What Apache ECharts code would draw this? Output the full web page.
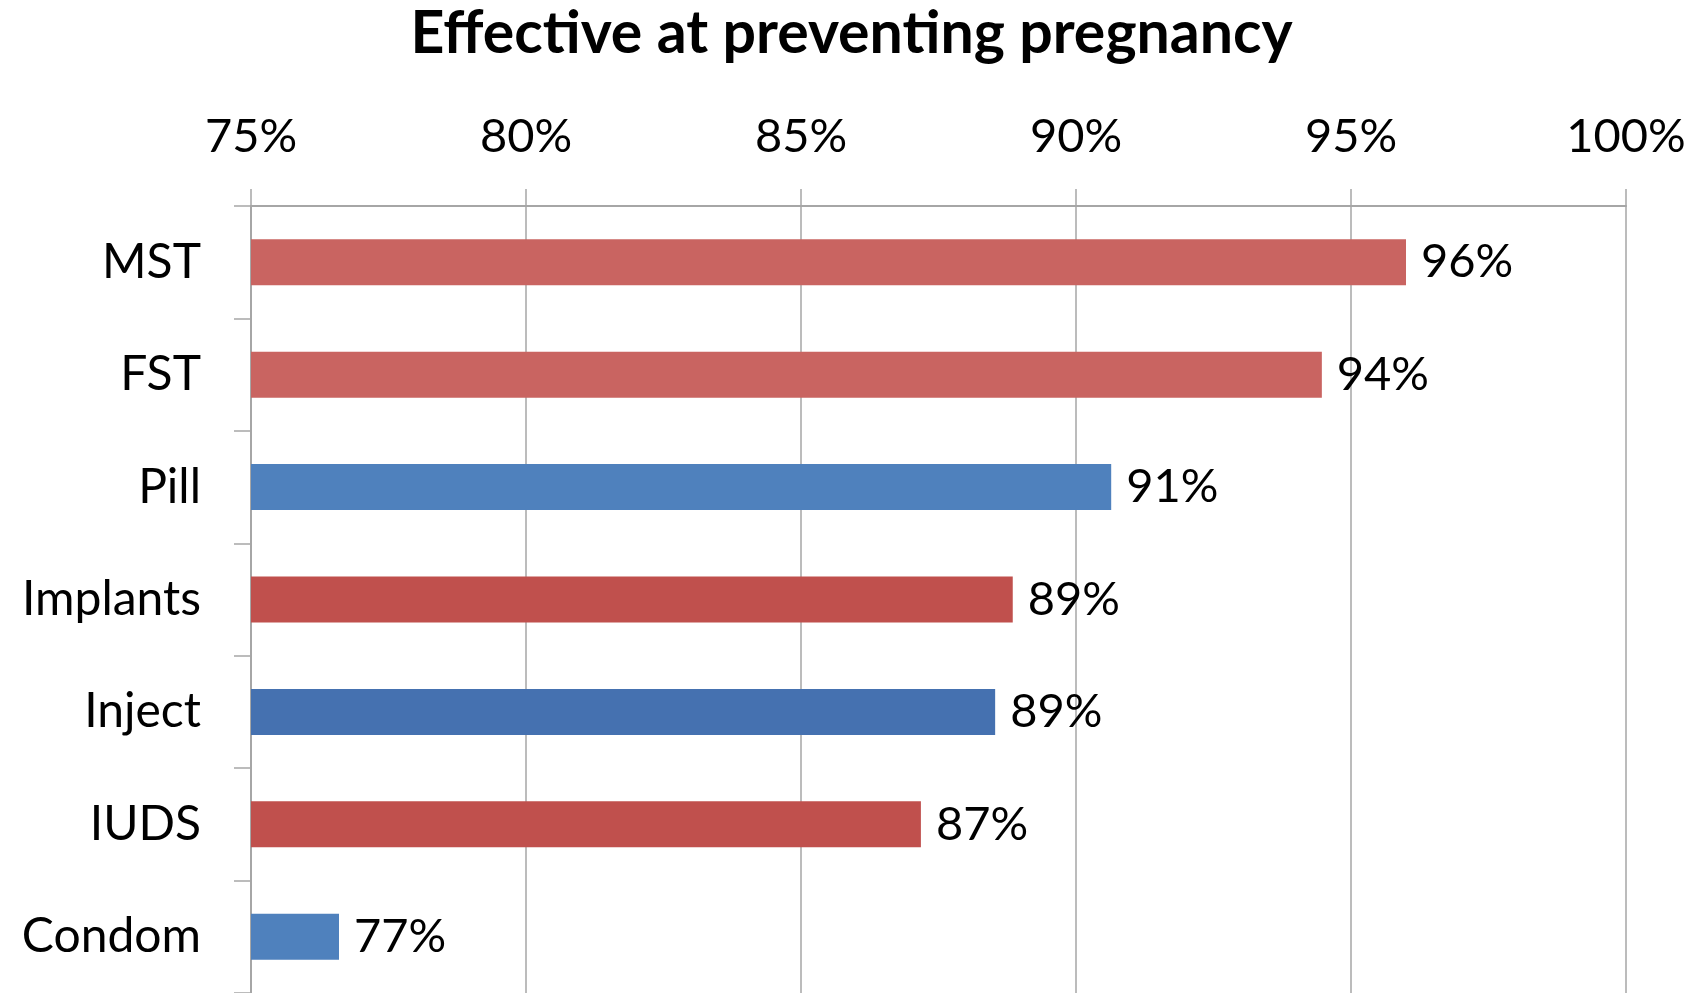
<!DOCTYPE html>
<html>
<head>
<meta charset="utf-8">
<title>Effective at preventing pregnancy</title>
<script src="https://cdn.jsdelivr.net/npm/echarts@6/dist/echarts.min.js"></script>
<style>
  html, body { margin: 0; padding: 0; background: #ffffff; }
  #chart { width: 1703px; height: 993px; }
</style>
</head>
<body>
<div id="chart"></div>
<script>
// Contraceptive methods, top to bottom
const methods = ['MST', 'FST', 'Pill', 'Implants', 'Inject', 'IUDS', 'Condom'];
// Share effective at preventing pregnancy (%)
const effectiveness = [96.0, 94.47, 90.64, 88.85, 88.53, 87.18, 76.6];
// Value-axis range and step (%)
const axisMin = 75;
const axisMax = 100;
const axisStep = 5;

// Fill for each bar, in the same order as the methods
const barColors = ['#C96461', '#C96461', '#4F81BD', '#C0504D', '#4571B0', '#C0504D', '#4F81BD'];

const FONT = 'Lato, "Noto Sans", sans-serif';
const GRID_GRAY = '#A6A6A6';

const chart = echarts.init(document.getElementById('chart'), null, { renderer: 'canvas' });

chart.setOption({
  animation: false,
  backgroundColor: '#ffffff',
  title: {
    text: 'Effective at preventing pregnancy',
    left: 'center',
    top: -1,
    textStyle: { fontFamily: FONT, fontWeight: 'bold', fontSize: 59, color: '#000000' }
  },
  grid: { left: 251, right: 77, top: 206, bottom: -4, containLabel: false },
  xAxis: {
    type: 'value',
    position: 'top',
    min: axisMin,
    max: axisMax,
    interval: axisStep,
    axisLine: { show: true, lineStyle: { color: GRID_GRAY, width: 2 } },
    axisTick: { show: true, inside: false, length: 17, lineStyle: { color: GRID_GRAY, width: 1.5 } },
    splitLine: { show: true, lineStyle: { color: GRID_GRAY, width: 1.5 } },
    axisLabel: {
      margin: 46,
      fontFamily: FONT,
      fontSize: 47,
      color: '#000000',
      formatter: v => v + '%'
    }
  },
  yAxis: {
    type: 'category',
    inverse: true,
    data: methods,
    axisLine: { show: true, lineStyle: { color: GRID_GRAY, width: 2 } },
    axisTick: { show: true, inside: false, length: 17, lineStyle: { color: GRID_GRAY, width: 1.5 } },
    axisLabel: {
      margin: 50,
      fontFamily: FONT,
      fontSize: 48,
      color: '#000000'
    }
  },
  series: [{
    type: 'bar',
    barWidth: 46,
    data: effectiveness.map((v, i) => ({ value: v, itemStyle: { color: barColors[i] } })),
    label: {
      show: true,
      position: 'right',
      distance: 15,
      fontFamily: FONT,
      fontSize: 47,
      color: '#000000',
      formatter: p => Math.round(p.value) + '%'
    }
  }]
});
</script>
</body>
</html>
